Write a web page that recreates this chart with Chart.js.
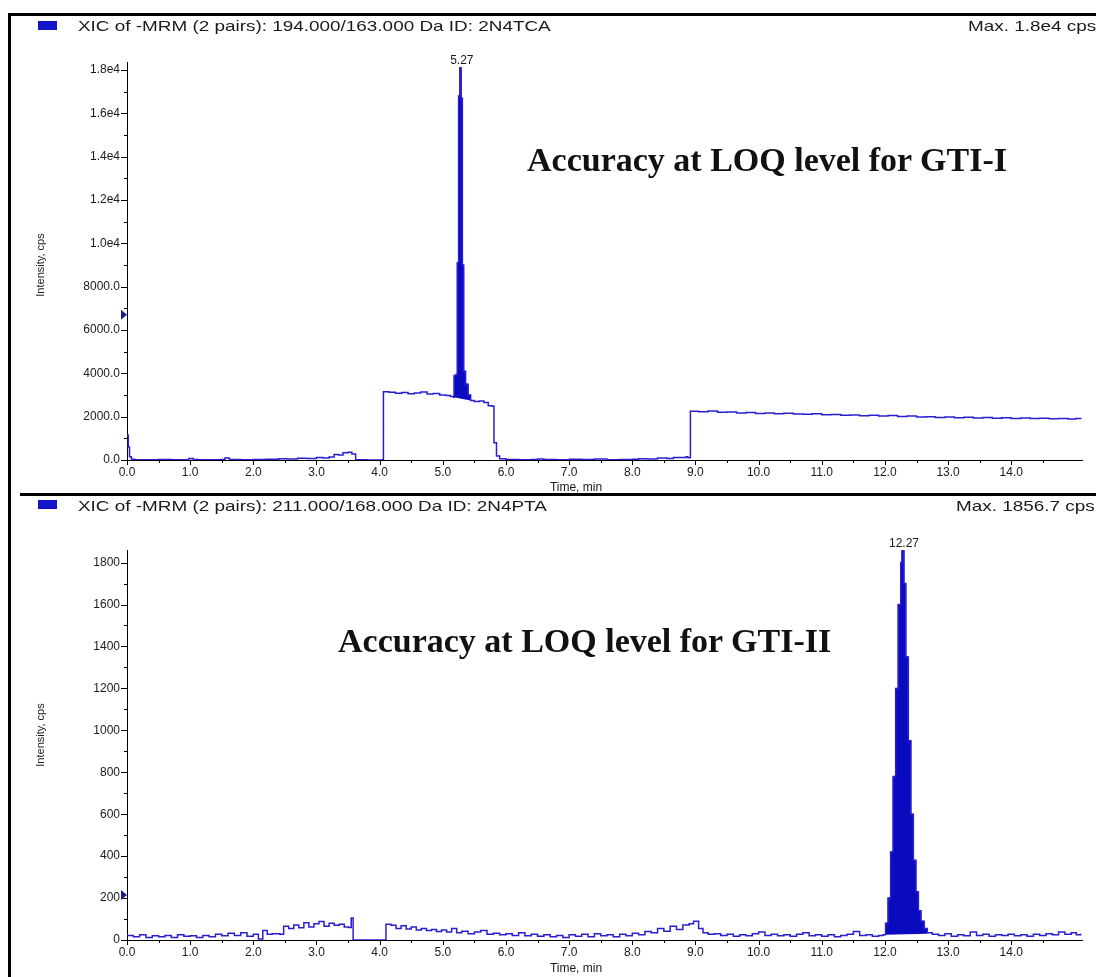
<!DOCTYPE html>
<html lang="en">
<head>
  <meta charset="UTF-8"/>
  <title>XIC chromatograms</title>
  <script src="https://cdn.jsdelivr.net/npm/chart.js"></script>
  <style>
    body { margin: 0; background: #fff; font-family: Arial, "Liberation Sans", sans-serif; color: #1a1a1a; }
    .page { position: relative; width: 1096px; height: 977px; overflow: hidden; }
    canvas { position: absolute; left: 0; }
    .bar { position: absolute; background: #000; }
    .sq { position: absolute; width: 19px; height: 9px; background: #1414c8; }
    .hdr { position: absolute; font-size: 15px; line-height: 16px; white-space: nowrap; transform: scaleX(1.26); transform-origin: 0 0; }
    .ytitle { position: absolute; font-size: 11px; white-space: nowrap; transform: translate(-50%, -50%) rotate(-90deg); }
    .xtitle { position: absolute; font-size: 12px; white-space: nowrap; transform: translateX(-50%); }
    .note { position: absolute; font: bold 34px "Liberation Serif", "Times New Roman", serif; line-height: 1; white-space: nowrap; color: #111; }
  </style>
</head>
<body>
<div class="page">
  <canvas id="top" width="1096" height="494" style="top:0"></canvas>
  <canvas id="bottom" width="1096" height="483" style="top:494px"></canvas>

  <div class="bar" style="left:8px;top:13px;width:3px;height:964px"></div>
  <div class="bar" style="left:8px;top:13px;width:1088px;height:3px"></div>
  <div class="bar" style="left:20px;top:493px;width:1076px;height:3px"></div>

  <div class="sq" style="left:38px;top:21px"></div>
  <div class="hdr" style="left:78px;top:18px">XIC of -MRM (2 pairs): 194.000/163.000 Da ID: 2N4TCA</div>
  <div class="hdr" style="left:968px;top:18px">Max. 1.8e4 cps</div>
  <div class="sq" style="left:38px;top:500px"></div>
  <div class="hdr" style="left:78px;top:498px">XIC of -MRM (2 pairs): 211.000/168.000 Da ID: 2N4PTA</div>
  <div class="hdr" style="left:956px;top:498px">Max. 1856.7 cps</div>

  <div class="ytitle" style="left:40px;top:265px">Intensity, cps</div>
  <div class="ytitle" style="left:40px;top:735px">Intensity, cps</div>
  <div class="xtitle" style="left:576px;top:480px">Time, min</div>
  <div class="xtitle" style="left:576px;top:961px">Time, min</div>

  <div class="note" style="left:527px;top:143px">Accuracy at LOQ level for GTI-I</div>
  <div class="note" style="left:338px;top:624px">Accuracy at LOQ level for GTI-II</div>
</div>

<script>
  // shared time axis
  const xMajor = [0, 1, 2, 3, 4, 5, 6, 7, 8, 9, 10, 11, 12, 13, 14];
  const xMinor = [0.5, 1.5, 2.5, 3.5, 4.5, 5.5, 6.5, 7.5, 8.5, 9.5, 10.5, 11.5, 12.5, 13.5, 14.5];
  const xTickLabels = ["0.0", "1.0", "2.0", "3.0", "4.0", "5.0", "6.0", "7.0", "8.0", "9.0", "10.0", "11.0", "12.0", "13.0", "14.0"];
  const xMax = 15.12;

  // GTI-I  (194.000/163.000)
  const topTime = [
    0.00, 0.02, 0.04, 0.07, 0.12, 0.30, 0.50, 0.70, 0.90, 0.98, 1.05, 1.12, 1.30, 1.48, 1.55, 1.62, 1.80, 2.00,
    2.20, 2.40, 2.55, 2.70, 2.85, 3.00, 3.10, 3.20, 3.28, 3.35, 3.42, 3.50, 3.56, 3.62, 3.80, 4.00, 4.04,
    4.06, 4.15, 4.25, 4.35, 4.45, 4.55, 4.65, 4.75, 4.85, 4.95, 5.05, 5.12,
    5.17, 5.18, 5.21, 5.23, 5.25, 5.27, 5.29, 5.31, 5.33, 5.36, 5.40, 5.44,
    5.50, 5.58, 5.65, 5.72, 5.78, 5.81, 5.85, 5.90, 6.00, 6.20, 6.40, 6.50, 6.60, 6.80, 7.00, 7.20, 7.40,
    7.60, 7.80, 8.00, 8.10, 8.25, 8.40, 8.55, 8.65, 8.75, 8.85, 8.88,
    8.92, 9.05, 9.20, 9.35, 9.50, 9.65, 9.80, 9.95, 10.10, 10.25, 10.40, 10.55, 10.70, 10.85, 11.00, 11.15,
    11.30, 11.45, 11.60, 11.75, 11.90, 12.05, 12.20, 12.35, 12.50, 12.65, 12.80, 12.95, 13.10, 13.25, 13.40,
    13.55, 13.70, 13.85, 14.00, 14.15, 14.30, 14.45, 14.60, 14.75, 14.90, 15.02, 15.10
  ];
  const topInt = [
    1150, 600, 150, 40, 15, 10, 20, 10, 15, 70, 20, 10, 15, 25, 90, 20, 15, 25,
    40, 60, 50, 80, 70, 110, 90, 140, 250, 230, 330, 360, 280, 10, 5, 5, 10,
    3150, 3130, 3080, 3110, 3060, 3090, 3140, 3050, 3070, 3000, 2980, 2930,
    2900, 3900, 3950, 9100, 16800, 18100, 16700, 9000, 4100, 3500, 3000, 2750,
    2700, 2720, 2650, 2500, 2480, 800, 180, 60, 20, 15, 25, 50, 20, 15, 30, 20, 45,
    15, 25, 30, 60, 50, 90, 70, 120, 110, 150, 100,
    2250, 2230, 2260, 2200, 2210, 2170, 2190, 2150, 2170, 2140, 2160, 2120, 2110, 2140, 2090, 2100,
    2070, 2080, 2040, 2060, 2030, 2050, 2010, 2030, 1990, 2000, 1960, 1990, 1950, 1970, 1940,
    1960, 1930, 1950, 1920, 1940, 1910, 1930, 1900, 1920, 1890, 1910, 1880
  ];
  const topPeakWindow = [5.17, 5.44];
  const topPeakBase = [2900, 2750];
  const topYTicks = [0, 2000, 4000, 6000, 8000, 10000, 12000, 14000, 16000, 18000];
  const topYMinor = [1000, 3000, 5000, 7000, 9000, 11000, 13000, 15000, 17000];
  const topYLabels = ["0.0", "2000.0", "4000.0", "6000.0", "8000.0", "1.0e4", "1.2e4", "1.4e4", "1.6e4", "1.8e4"];

  // GTI-II  (211.000/168.000)
  const botTime = [
    0.00, 0.10, 0.20, 0.30, 0.40, 0.50, 0.60, 0.70, 0.80, 0.90, 1.00, 1.10, 1.20, 1.30, 1.40, 1.50, 1.60, 1.70,
    1.80, 1.90, 2.00, 2.08, 2.15, 2.22, 2.30, 2.42, 2.48, 2.56, 2.64, 2.72, 2.80, 2.88, 2.96, 3.04, 3.12, 3.20,
    3.28, 3.36, 3.44, 3.51, 3.55, 3.58, 4.05, 4.10, 4.18, 4.26, 4.34, 4.42, 4.50, 4.58, 4.66, 4.74, 4.82, 4.90,
    4.98, 5.06, 5.14, 5.22, 5.30, 5.40, 5.50, 5.60, 5.70, 5.80, 5.90, 6.00, 6.10, 6.20, 6.30, 6.40, 6.50, 6.60,
    6.70, 6.80, 6.90, 7.00, 7.10, 7.20, 7.30, 7.40, 7.50, 7.60, 7.70, 7.80, 7.90, 8.00, 8.10, 8.20, 8.30, 8.40,
    8.50, 8.60, 8.70, 8.80, 8.90, 8.97, 9.05, 9.12, 9.20, 9.30, 9.40, 9.50, 9.60, 9.70, 9.80, 9.90, 10.00,
    10.10, 10.20, 10.30, 10.40, 10.50, 10.60, 10.70, 10.80, 10.90, 11.00, 11.10, 11.20, 11.30, 11.40, 11.50,
    11.60, 11.70, 11.80, 11.90, 11.97,
    12.01, 12.05, 12.09, 12.13, 12.17, 12.21, 12.25, 12.27, 12.30, 12.33, 12.37, 12.41, 12.45, 12.49, 12.53,
    12.57, 12.62, 12.67,
    12.75, 12.85, 12.95, 13.05, 13.15, 13.25, 13.35, 13.45, 13.55, 13.65, 13.75, 13.85, 13.95, 14.05, 14.15,
    14.25, 14.35, 14.45, 14.55, 14.65, 14.75, 14.85, 14.95, 15.03, 15.10
  ];
  const botInt = [
    22, 15, 25, 12, 20, 15, 22, 12, 25, 18, 20, 12, 22, 15, 28, 20, 32, 22,
    35, 18, 28, 5, 45, 28, 30, 28, 65, 55, 72, 58, 82, 62, 78, 88, 65, 80,
    70, 75, 62, 60, 105, 0, 0, 75, 70, 55, 68, 52, 62, 48, 55, 45, 50, 40,
    48, 38, 55, 35, 42, 30, 38, 45, 28, 32, 25, 30, 22, 35, 20, 28, 18, 25,
    15, 22, 12, 25, 18, 28, 15, 30, 20, 25, 15, 28, 20, 32, 25, 40, 35, 55,
    42, 65, 50, 72, 78, 90, 55, 35, 28, 30, 22, 28, 18, 25, 20, 30, 38,
    22, 28, 20, 25, 18, 28, 35, 20, 25, 18, 25, 15, 22, 28, 40,
    22, 25, 18, 22, 25,
    80, 200, 420, 780, 1200, 1600, 1800, 1857, 1700, 1350, 950, 600, 380, 230, 140,
    90, 55, 35,
    28, 22, 30, 18, 25, 20, 38, 22, 28, 18, 25, 22, 28, 20, 25,
    18, 28, 22, 30, 25, 38, 28, 35, 25, 30
  ];
  const botPeakWindow = [12.01, 12.67];
  const botPeakBase = [25, 30];
  const botYTicks = [0, 200, 400, 600, 800, 1000, 1200, 1400, 1600, 1800];
  const botYMinor = [100, 300, 500, 700, 900, 1100, 1300, 1500, 1700];
  const botYLabels = ["0", "200", "400", "600", "800", "1000", "1200", "1400", "1600", "1800"];

  const LINE = "#2a1fd0";
  const FILL = "#0a0abe";

  function pts(ts, vs) { return ts.map((t, i) => ({ x: t, y: vs[i] })); }

  // tick marks, threshold marker and apex label
  function decor(o) {
    return {
      id: "decor",
      afterDatasetsDraw(chart) {
        const { ctx, chartArea: a, scales: { x, y } } = chart;
        ctx.save();
        ctx.strokeStyle = "#000";
        ctx.lineWidth = 1;
        ctx.beginPath();
        xMajor.forEach(v => { const p = Math.round(x.getPixelForValue(v)) + 0.5; ctx.moveTo(p, a.bottom); ctx.lineTo(p, a.bottom + 5); });
        xMinor.forEach(v => { const p = Math.round(x.getPixelForValue(v)) + 0.5; ctx.moveTo(p, a.bottom); ctx.lineTo(p, a.bottom + 3); });
        o.yTicks.forEach(v => { const p = Math.round(y.getPixelForValue(v)) + 0.5; ctx.moveTo(a.left, p); ctx.lineTo(a.left - 6, p); });
        o.yMinor.forEach(v => { const p = Math.round(y.getPixelForValue(v)) + 0.5; ctx.moveTo(a.left, p); ctx.lineTo(a.left - 3, p); });
        ctx.stroke();

        const ty = y.getPixelForValue(o.threshold);
        ctx.fillStyle = "#1c1c8a";
        ctx.beginPath();
        ctx.moveTo(a.left - 6, ty - 5);
        ctx.lineTo(a.left, ty);
        ctx.lineTo(a.left - 6, ty + 5);
        ctx.closePath();
        ctx.fill();

        ctx.fillStyle = "#1a1a1a";
        ctx.font = "12px Arial, 'Liberation Sans', sans-serif";
        ctx.textAlign = "center";
        ctx.textBaseline = "bottom";
        ctx.fillText(o.apexTime.toFixed(2), x.getPixelForValue(o.apexTime) + 2, y.getPixelForValue(o.apexValue) - 1);
        ctx.restore();
      }
    };
  }

  function buildChart(id, o) {
    const trace = pts(o.time, o.int);
    const peak = trace.filter(p => p.x >= o.win[0] && p.x <= o.win[1]);
    const base = [{ x: o.win[0], y: o.base[0] }, { x: o.win[1], y: o.base[1] }];
    const apex = peak.reduce((m, p) => (p.y > m.y ? p : m), peak[0]);
    o.apexTime = apex.x;
    o.apexValue = apex.y;

    return new Chart(document.getElementById(id), {
      type: "line",
      data: {
        datasets: [
          { data: trace, borderColor: LINE, borderWidth: 1.5, pointRadius: 0, stepped: true, fill: false },
          { data: base, borderColor: "rgba(0,0,0,0)", borderWidth: 0, pointRadius: 0, fill: false },
          { data: peak, borderColor: FILL, backgroundColor: FILL, borderWidth: 1, pointRadius: 0, stepped: true, fill: 1 }
        ]
      },
      options: {
        responsive: false,
        animation: false,
        events: [],
        layout: { padding: { top: o.padTop, right: 14, left: 0, bottom: 0 } },
        plugins: { legend: { display: false }, tooltip: { enabled: false } },
        scales: {
          x: {
            type: "linear", min: 0, max: xMax,
            grid: { display: false, drawTicks: false },
            border: { display: true, color: "#000", width: 1 },
            ticks: {
              autoSkip: false, maxRotation: 0, padding: 5, color: "#1a1a1a",
              font: { family: "Arial, 'Liberation Sans', sans-serif", size: 12 },
              callback: (v, i) => xTickLabels[i]
            },
            afterBuildTicks: s => { s.ticks = xMajor.map(v => ({ value: v })); },
            afterFit: s => { s.height = o.xHeight; }
          },
          y: {
            min: 0, max: o.yMax,
            grid: { display: false, drawTicks: false },
            border: { display: true, color: "#000", width: 1 },
            ticks: {
              autoSkip: false, padding: 7, color: "#1a1a1a",
              font: { family: "Arial, 'Liberation Sans', sans-serif", size: 12 },
              callback: (v, i) => o.yLabels[i]
            },
            afterBuildTicks: s => { s.ticks = o.yTicks.map(v => ({ value: v })); },
            afterFit: s => { s.width = 127; }
          }
        }
      },
      plugins: [decor(o)]
    });
  }

  buildChart("top", {
    time: topTime, int: topInt, win: topPeakWindow, base: topPeakBase,
    yMax: 18370, yTicks: topYTicks, yMinor: topYMinor, yLabels: topYLabels,
    threshold: 6700, padTop: 62, xHeight: 34
  });
  buildChart("bottom", {
    time: botTime, int: botInt, win: botPeakWindow, base: botPeakBase,
    yMax: 1860, yTicks: botYTicks, yMinor: botYMinor, yLabels: botYLabels,
    threshold: 215, padTop: 56, xHeight: 37
  });
</script>
</body>
</html>
